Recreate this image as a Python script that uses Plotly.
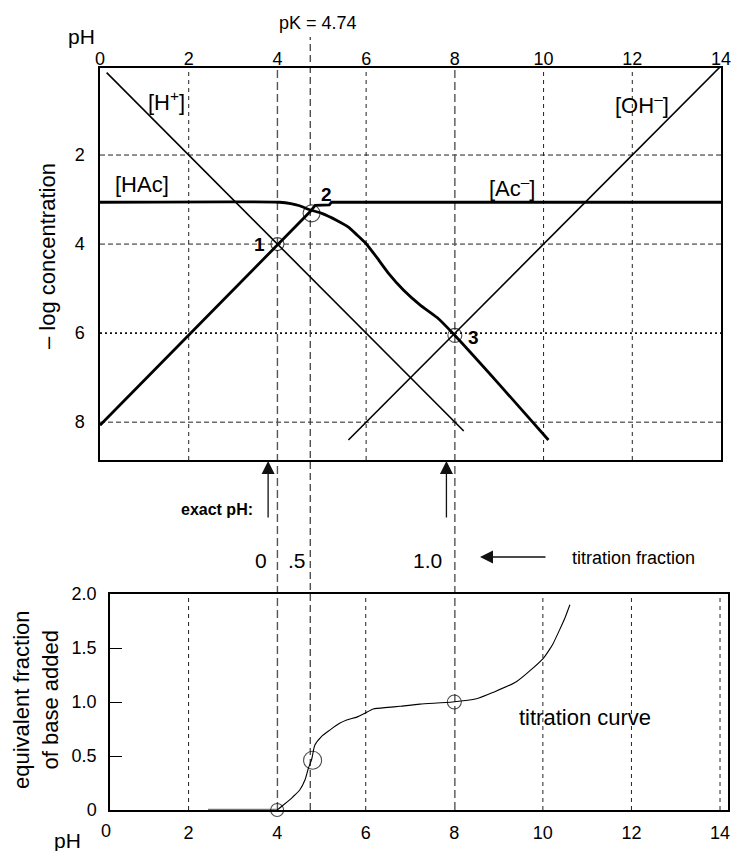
import plotly.graph_objects as go

FONT = "Liberation Sans, Arial, Helvetica, sans-serif"
W, H = 731, 851

# ---------------- data ----------------
ph_tick_vals = [0, 2, 4, 6, 8, 10, 12, 14]
ph_tick_vals_bottom = [2, 4, 6, 8, 10, 12, 14]
logc_tick_vals = [2, 4, 6, 8]
frac_tick_vals = [0, 0.5, 1.0, 1.5, 2.0]
frac_tick_text = ["0", "0.5", "1.0", "1.5", "2.0"]

pK = 4.74

h_ph = [0.15, 8.2]
h_logc = [0.15, 8.2]

oh_ph = [5.6, 14.0]
oh_logc = [8.4, 0.0]

hac_ph = [0.0, 4.05, 4.3, 4.5, 4.73, 5.0, 5.34, 5.6, 5.8, 5.98, 6.24, 6.5,
          6.84, 7.22, 7.6, 7.97, 9.0, 10.11]
hac_logc = [3.06, 3.06, 3.09, 3.14, 3.23, 3.31, 3.47, 3.62, 3.80, 3.97, 4.30,
            4.65, 5.03, 5.37, 5.65, 6.02, 7.15, 8.40]

ac_ph = [0.0, 4.0, 4.74, 4.85, 5.17, 5.22, 14.0]
ac_logc = [8.07, 4.0, 3.27, 3.13, 3.12, 3.06, 3.06]

point_ph = [4.0, 4.77, 8.0]
point_logc = [4.0, 3.31, 6.05]
point_labels = ["1", "2", "3"]

titr_ph = [4.0, 4.14, 4.35, 4.51, 4.63, 4.70, 4.78, 4.85, 5.0, 5.19, 5.4,
           5.57, 5.8, 5.98, 6.17, 6.5, 6.77, 7.22, 7.96, 8.5, 8.88, 9.41,
           10.0, 10.14, 10.23, 10.38, 10.5, 10.61]
titr_frac = [0.0, 0.046, 0.12, 0.185, 0.28, 0.38, 0.47, 0.60, 0.68, 0.74,
             0.80, 0.833, 0.86, 0.895, 0.935, 0.95, 0.96, 0.98, 1.0, 1.03,
             1.09, 1.19, 1.40, 1.48, 1.54, 1.67, 1.78, 1.90]
baseline_ph = [2.44, 4.0]
baseline_frac = [0.0, 0.0]

eq_ph = [4.0, 4.8, 8.0]
eq_frac = [0.0, 0.46, 1.0]

exact_ph = [3.79, 7.81]
fraction_labels = ["0", ".5", "1.0"]
fraction_label_ph = [3.63, 4.44, 7.39]

# ---------------- layout geometry (pixels -> paper) ----------------
def px(x):
    return x / W

def py(y):
    return 1 - y / H

fig = go.Figure()

# top panel
fig.add_trace(go.Scatter(x=h_ph, y=h_logc, mode="lines",
                         line=dict(color="black", width=1.6),
                         xaxis="x", yaxis="y", showlegend=False))
fig.add_trace(go.Scatter(x=oh_ph, y=oh_logc, mode="lines",
                         line=dict(color="black", width=1.6),
                         xaxis="x", yaxis="y", showlegend=False))
fig.add_trace(go.Scatter(x=hac_ph, y=hac_logc, mode="lines",
                         line=dict(color="black", width=2.8, shape="spline", smoothing=0.5),
                         xaxis="x", yaxis="y", showlegend=False))
fig.add_trace(go.Scatter(x=ac_ph, y=ac_logc, mode="lines",
                         line=dict(color="black", width=2.8),
                         xaxis="x", yaxis="y", showlegend=False))
fig.add_trace(go.Scatter(x=point_ph, y=point_logc, mode="markers",
                         marker=dict(symbol="circle-open", size=[13, 17, 14],
                                     color="black", line=dict(width=1.1)),
                         xaxis="x", yaxis="y", showlegend=False, cliponaxis=False))

# bottom panel
fig.add_trace(go.Scatter(x=baseline_ph, y=baseline_frac, mode="lines",
                         line=dict(color="#777777", width=2.5),
                         xaxis="x2", yaxis="y2", showlegend=False, cliponaxis=False))
fig.add_trace(go.Scatter(x=titr_ph, y=titr_frac, mode="lines",
                         line=dict(color="black", width=1.1, shape="spline", smoothing=0.6),
                         xaxis="x2", yaxis="y2", showlegend=False, cliponaxis=False))
fig.add_trace(go.Scatter(x=eq_ph, y=eq_frac, mode="markers",
                         marker=dict(symbol="circle-open", size=[13, 18, 14],
                                     color="black", line=dict(width=1.1)),
                         xaxis="x2", yaxis="y2", showlegend=False, cliponaxis=False))

# ---------------- shapes (grid) ----------------
shapes = []
for v in [2, 4, 8]:
    shapes.append(dict(type="line", xref="x domain", yref="y", x0=0, x1=1, y0=v, y1=v,
                       line=dict(color="#222222", width=1, dash="5px,3px"), layer="below"))
shapes.append(dict(type="line", xref="x domain", yref="y", x0=0, x1=1, y0=6, y1=6,
                   line=dict(color="#111111", width=1.6, dash="2px,3px"), layer="below"))
for v in [2, 6, 10, 12]:
    shapes.append(dict(type="line", xref="x", yref="y domain", x0=v, x1=v, y0=0, y1=1,
                       line=dict(color="#222222", width=1, dash="4px,4px"), layer="below"))
for v in [2, 6, 10, 12, 14]:
    shapes.append(dict(type="line", xref="x2", yref="y2 domain", x0=v, x1=v, y0=0, y1=1,
                       line=dict(color="#222222", width=1, dash="4px,4px"), layer="below"))
for v in [4, 8]:
    shapes.append(dict(type="line", xref="x", yref="paper", x0=v, x1=v,
                       y0=py(810), y1=py(68),
                       line=dict(color="#555555", width=1.4, dash="8px,4px"), layer="below"))
shapes.append(dict(type="line", xref="x", yref="paper", x0=pK, x1=pK,
                   y0=py(810), y1=py(37),
                   line=dict(color="#333333", width=1.2, dash="7px,4px"), layer="below"))

# ---------------- annotations ----------------
ann = []

def text(x, y, s, size, xref="paper", yref="paper", xanchor="center", **kw):
    d = dict(x=x, y=y, xref=xref, yref=yref, text=s, showarrow=False,
             xanchor=xanchor, yanchor="middle",
             font=dict(family=FONT, size=size, color="black"))
    d.update(kw)
    ann.append(d)

# axis-ish labels
text(px(81), py(37), "pH", 21)
text(px(67), py(840), "pH", 21)
text(px(106), py(831), "0", 18)
text(px(318), py(23), "pK = 4.74", 18)
text(px(47), py(256), "\u2013 log concentration", 22, textangle=-90)
text(px(36), py(700), "equivalent fraction<br>of base added", 22, textangle=-90)

# series labels
text(1.49, 0.78, "[H<sup>+</sup>]", 22, xref="x", yref="y")
text(0.95, 2.67, "[HAc]", 22, xref="x", yref="y")
text(9.29, 2.72, "[Ac<sup>\u2013</sup>]", 22, xref="x", yref="y")
text(12.22, 0.85, "[OH<sup>\u2013</sup>]", 22, xref="x", yref="y")

# point labels
shifts = [(-18, 0), (15, 19), (19, -2)]
for (xv, yv, lab, (dx, dy)) in zip(point_ph, point_logc, point_labels, shifts):
    text(xv, yv, "<b>%s</b>" % lab, 19, xref="x", yref="y", xshift=dx, yshift=dy)

# bottom label
text(10.95, 0.86, "titration curve", 22, xref="x2", yref="y2")

# middle area
text(px(255), py(509), "<b>exact pH:</b>", 16, xanchor="right")
for lab, xv in zip(fraction_labels, fraction_label_ph):
    text(xv, py(560), lab, 21, xref="x")
text(px(570), py(558), "titration fraction", 18, xanchor="left")

# arrows
for xv in exact_ph:
    ann.append(dict(x=xv, y=py(461), xref="x", yref="paper", text="", showarrow=True,
                    ax=0, ay=58, arrowhead=2, arrowsize=2.0, arrowwidth=1.3,
                    arrowcolor="#111111"))
ann.append(dict(x=px(480), y=py(557), xref="paper", yref="paper", text="", showarrow=True,
                ax=67, ay=0, arrowhead=2, arrowsize=2.0, arrowwidth=1.3,
                arrowcolor="#111111"))

# ---------------- axes ----------------
tickfont = dict(family=FONT, size=18, color="black")
common = dict(showgrid=False, zeroline=False, showline=True, mirror=True,
              linecolor="black", linewidth=1.5, tickfont=tickfont, automargin=False,
              ticklabeloverflow="allow")
fig.update_layout(
    width=W, height=H,
    margin=dict(l=0, r=0, t=0, b=0, pad=0, autoexpand=False),
    paper_bgcolor="white", plot_bgcolor="white",
    showlegend=False,
    font=dict(family=FONT, color="black"),
    xaxis=dict(domain=[px(100), px(721)], range=[-1e-6, 14 + 1e-6], anchor="y",
               side="top", tickvals=ph_tick_vals, ticks="", ticklabelstandoff=-6, **common),
    yaxis=dict(domain=[py(460), py(68)], range=[8.85, 0.045], anchor="x",
               tickvals=logc_tick_vals, ticks="", ticklabelstandoff=10, **common),
    xaxis2=dict(domain=[px(110), px(728)], range=[0.226, 14.18], anchor="y2",
                tickvals=ph_tick_vals_bottom, ticks="", ticklabelstandoff=6, **common),
    yaxis2=dict(domain=[py(810), py(594)], range=[0, 2.0], anchor="x2",
                tickvals=frac_tick_vals, ticktext=frac_tick_text, ticks="inside",
                ticklen=12, tickwidth=1.3, tickcolor="black", ticklabelstandoff=8,
                **common),
    shapes=shapes,
    annotations=ann,
)

fig.write_html("out.html")
